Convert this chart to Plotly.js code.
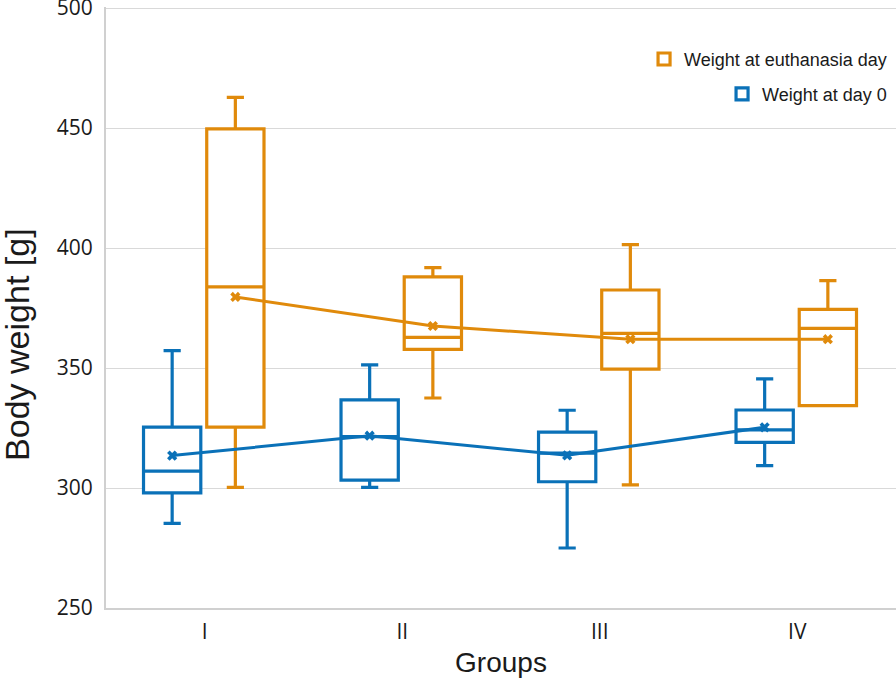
<!DOCTYPE html>
<html>
<head>
<meta charset="utf-8">
<script src="https://cdn.plot.ly/plotly-3.0.1.min.js"></script>
<style>html,body{margin:0;padding:0;background:#fff;}#chart{width:896px;height:678px;}</style>
</head>
<body>
<div id="chart"></div>
<script>
// ---- data ----
const groups = ['I', 'II', 'III', 'IV'];
const groupPos = [1, 2, 3, 4];
const yTicks = [250, 300, 350, 400, 450, 500];

// Weight at day 0
const day0Lower  = [285.3, 300.3, 275.0, 309.3];
const day0Q1     = [298.0, 303.3, 302.6, 319.0];
const day0Median = [307.0, 321.4, 314.5, 324.2];
const day0Q3     = [325.4, 336.7, 323.3, 332.5];
const day0Upper  = [357.2, 351.3, 332.4, 345.5];
const day0Mean   = [313.5, 321.8, 313.6, 325.3];

// Weight at euthanasia day
const euthLower  = [300.3, 337.5, 301.3, 334.3];
const euthQ1     = [325.4, 357.8, 349.5, 334.3];
const euthMedian = [383.8, 362.8, 364.4, 366.5];
const euthQ3     = [449.6, 388.0, 382.5, 374.4];
const euthUpper  = [462.8, 391.8, 401.4, 386.4];
const euthMean   = [379.6, 367.5, 362.0, 362.0];

// ---- style ----
const orange = '#E08A0B';
const blue = '#0A71B8';
const offDay0 = -0.165, offEuth = 0.155;
const xDay0 = groupPos.map(p => p + offDay0);
const xEuth = groupPos.map(p => p + offEuth);

function boxTrace(name, x, lo, q1, med, q3, up, color, legend) {
  return {
    type: 'box', name: name, x: x,
    lowerfence: lo, q1: q1, median: med, q3: q3, upperfence: up,
    width: 0.29, whiskerwidth: 0.3,
    line: {color: color, width: 3.2},
    fillcolor: 'rgba(255,255,255,1)',
    boxpoints: false, hoverinfo: 'skip',
    legend: legend, showlegend: true
  };
}
function meanTrace(name, x, y, color) {
  return {
    type: 'scatter', mode: 'lines+markers', name: name, x: x, y: y,
    line: {color: color, width: 3},
    marker: {symbol: 'x', size: 9, color: color},
    showlegend: false, hoverinfo: 'skip'
  };
}

const data = [
  boxTrace('Weight at day 0', xDay0, day0Lower, day0Q1, day0Median, day0Q3, day0Upper, blue, 'legend2'),
  boxTrace('Weight at euthanasia day', xEuth, euthLower, euthQ1, euthMedian, euthQ3, euthUpper, orange, 'legend'),
  meanTrace('mean day 0', xDay0, day0Mean, blue),
  meanTrace('mean euthanasia', xEuth, euthMean, orange)
];

const tickFont = {family: 'Open Sans, sans-serif', size: 21, color: '#1a1a1a'};
const legendFont = {family: 'Liberation Sans, Arial, sans-serif', size: 18, color: '#1a1a1a'};

const layout = {
  width: 896, height: 678,
  margin: {l: 106, r: 0, t: 7, b: 70},
  paper_bgcolor: '#fff', plot_bgcolor: '#fff',
  xaxis: {
    range: [0.5, 4.5], tickvals: groupPos, ticktext: groups,
    showgrid: false, zeroline: false,
    showline: true, linecolor: '#d0d0d0', linewidth: 2,
    ticks: '', tickfont: tickFont, ticklabelstandoff: 4,
    title: {text: 'Groups', font: {family: 'Liberation Sans, Arial, sans-serif', size: 28, color: '#1a1a1a'}, standoff: 8}
  },
  yaxis: {
    range: [250, 500.42], tickvals: yTicks,
    showgrid: true, gridcolor: '#d9d9d9', gridwidth: 1,
    zeroline: false, showline: true, linecolor: '#d0d0d0', linewidth: 2,
    ticks: '', tickfont: tickFont, ticklabelstandoff: 7, ticklabeloverflow: 'allow'
  },
  annotations: [{
    text: 'Body weight [g]', textangle: -90,
    xref: 'paper', yref: 'paper', x: -0.112, y: 0.437,
    xanchor: 'center', yanchor: 'middle', showarrow: false,
    font: {family: 'Liberation Sans, Arial, sans-serif', size: 34, color: '#1a1a1a'}
  }],
  legend: {x: 0.995, xanchor: 'right', y: 0.913, yanchor: 'middle', font: legendFont, bgcolor: 'rgba(0,0,0,0)'},
  legend2: {x: 0.995, xanchor: 'right', y: 0.855, yanchor: 'middle', font: legendFont, bgcolor: 'rgba(0,0,0,0)'},
  showlegend: true
};

Plotly.newPlot('chart', data, layout, {displayModeBar: false, staticPlot: true});
</script>
</body>
</html>
